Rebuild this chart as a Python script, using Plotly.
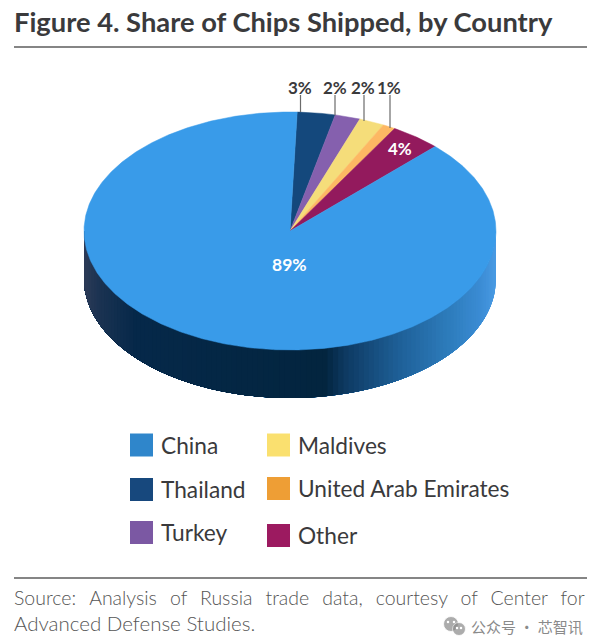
import numpy as np
import plotly.graph_objects as go

categories = ["China", "Thailand", "Turkey", "Maldives", "United Arab Emirates", "Other"]
shares = [89, 3, 2, 2, 1, 4]
slice_colors = ["#399BE9", "#14487C", "#8560AE", "#F5DD7A", "#FDB863", "#931A5D"]
legend_colors = ["#2F86CB", "#17487D", "#7B58A3", "#FAE06F", "#EE9E35", "#9C1A60"]
title_text = "<b>Figure 4. Share of Chips Shipped, by Country</b>"
GAP = "\u00a0\u00a0\u2009"
source_lines = [GAP.join(["Source:", "Analysis", "of", "Russia", "trade", "data,", "courtesy", "of", "Center", "for"]),
                "Advanced Defense Studies."]
watermark = "公众号 · 芯智讯"

CX, CY, RX, RY, DEPTH = 290, 231, 206, 119, 48
START_DEG = 2
DARK = "#3A3A3C"
fig = go.Figure()


def hex2rgb(h):
    return np.array([int(h[i:i + 2], 16) for i in (1, 3, 5)], float)


side_stops = [(84, "#2E3C58"), (100, "#1B3352"), (135, "#06294A"), (325, "#03253F"),
              (345, "#0E3A62"), (400, "#1F6199"), (450, "#2E7DBD"), (480, "#3B8CD4"), (496, "#4A9BE4")]


def side_color(x):
    xs = [s[0] for s in side_stops]
    rgb = [np.interp(x, xs, [hex2rgb(s[1])[k] for s in side_stops]) for k in range(3)]
    return "rgb(%d,%d,%d)" % tuple(rgb)


# Extruded rim: overlapping bands painted from the right edge to the left edge
edges = np.linspace(90, 270, 121)
for a0 in edges[:-1]:
    arc = np.radians(np.linspace(a0, 270, 60))
    x = CX + RX * np.sin(arc)
    y = CY - RY * np.cos(arc)
    xs = np.concatenate([x, x[::-1], x[:1]])
    ys = np.concatenate([y, y[::-1] + DEPTH, y[:1]])
    col = side_color(CX + RX * np.sin(np.radians(a0 + 0.75)))
    fig.add_trace(go.Scatter(x=xs, y=ys, mode="lines", fill="toself", fillcolor=col,
                             line=dict(width=0), hoverinfo="skip", showlegend=False))

# Top face: slices sized from the shares
total = sum(shares)
angle = START_DEG
for cat, val, col in zip(categories[1:] + categories[:1], shares[1:] + shares[:1], slice_colors[1:] + slice_colors[:1]):
    sweep = 360 * val / total
    t = np.radians(np.linspace(angle, angle + sweep, max(6, int(sweep * 2))))
    xs = np.concatenate([[CX], CX + RX * np.sin(t), [CX]])
    ys = np.concatenate([[CY], CY - RY * np.cos(t), [CY]])
    fig.add_trace(go.Scatter(x=xs, y=ys, mode="lines", fill="toself", fillcolor=col,
                             line=dict(color=col, width=0.5), name=cat, hoverinfo="name", showlegend=False))
    angle += sweep

# Leader lines and outer labels
leaders = {"Thailand": (300.5, 112, 300), "Turkey": (335, 115.5, 334.5),
           "Maldives": (364, 121, 363), "United Arab Emirates": (390, 128, 389)}
ann = []
for cat, val in zip(categories, shares):
    if cat in leaders:
        lx, ly, tx = leaders[cat]
        fig.add_shape(type="line", x0=lx, x1=lx, y0=95, y1=ly, line=dict(color="#6B6B6B", width=1.2))
        ann.append(dict(x=tx, y=87, text=f"<b>{val}%</b>", font=dict(size=17, color=DARK, family="Lato")))
ann.append(dict(x=400, y=148, text=f"<b>{shares[5]}%</b>", font=dict(size=17, color="white", family="Lato")))
ann.append(dict(x=289.5, y=264, text=f"<b>{shares[0]}%</b>", font=dict(size=17.5, color="white", family="Lato")))

# Legend
legend_pos = {"China": (141.5, 445, 159, 445), "Thailand": (141.5, 489.5, 159, 489), "Turkey": (141.5, 532.5, 159, 532),
              "Maldives": (278.5, 445, 296, 445), "United Arab Emirates": (278.5, 488.5, 296, 488), "Other": (278.5, 535.5, 296, 535)}
for cat, col in zip(categories, legend_colors):
    mx, my, tx, ty = legend_pos[cat]
    fig.add_trace(go.Scatter(x=[mx], y=[my], mode="markers", name=cat, showlegend=False, hoverinfo="name",
                             marker=dict(symbol="square", size=23, color=col, line=dict(width=0))))
    ann.append(dict(x=tx, y=ty, text=cat, xanchor="left", font=dict(size=22.7, color=DARK, family="Lato")))

# Rules
for ry in (47, 578):
    fig.add_shape(type="line", x0=14, x1=587, y0=ry, y1=ry, line=dict(color="#858585", width=2))

# Source note
ann.append(dict(x=12, y=597, text=source_lines[0], xanchor="left", font=dict(size=19.5, color="#555555", family="Lato Light, Lato")))
ann.append(dict(x=12, y=623, text=source_lines[1], xanchor="left", font=dict(size=20.5, color="#555555", family="Lato Light, Lato")))

# Watermark
fig.add_trace(go.Scatter(x=[451, 459], y=[624, 629], mode="markers", showlegend=False, hoverinfo="skip",
                         marker=dict(size=[15, 13], color="#8A8A8A", line=dict(color="white", width=0.8))))
fig.add_trace(go.Scatter(x=[448, 454, 457, 461], y=[622, 622, 628, 628], mode="markers", showlegend=False, hoverinfo="skip",
                         marker=dict(size=2.5, color="white")))
ann.append(dict(x=469, y=626, text=watermark, xanchor="left",
                font=dict(size=15, color="#8A8A8A", family="Noto Sans CJK SC")))

for a in ann:
    a.update(xref="x", yref="y", showarrow=False)
    a.setdefault("xanchor", "center")
    a.setdefault("yanchor", "middle")

fig.update_layout(
    width=600, height=641, autosize=False, margin=dict(l=0, r=0, t=0, b=0),
    paper_bgcolor="white", plot_bgcolor="white", showlegend=False,
    title=dict(text=title_text, x=14 / 600, xanchor="left", xref="paper", y=1 - 22 / 641, yanchor="middle",
               font=dict(size=27.3, color=DARK, family="Lato")),
    xaxis=dict(range=[0, 600], visible=False, fixedrange=True),
    yaxis=dict(range=[641, 0], visible=False, fixedrange=True),
    annotations=ann,
)
fig.write_html("out.html", config={"displayModeBar": False},
               post_script="document.body.style.margin='0';document.body.style.overflow='hidden';")
